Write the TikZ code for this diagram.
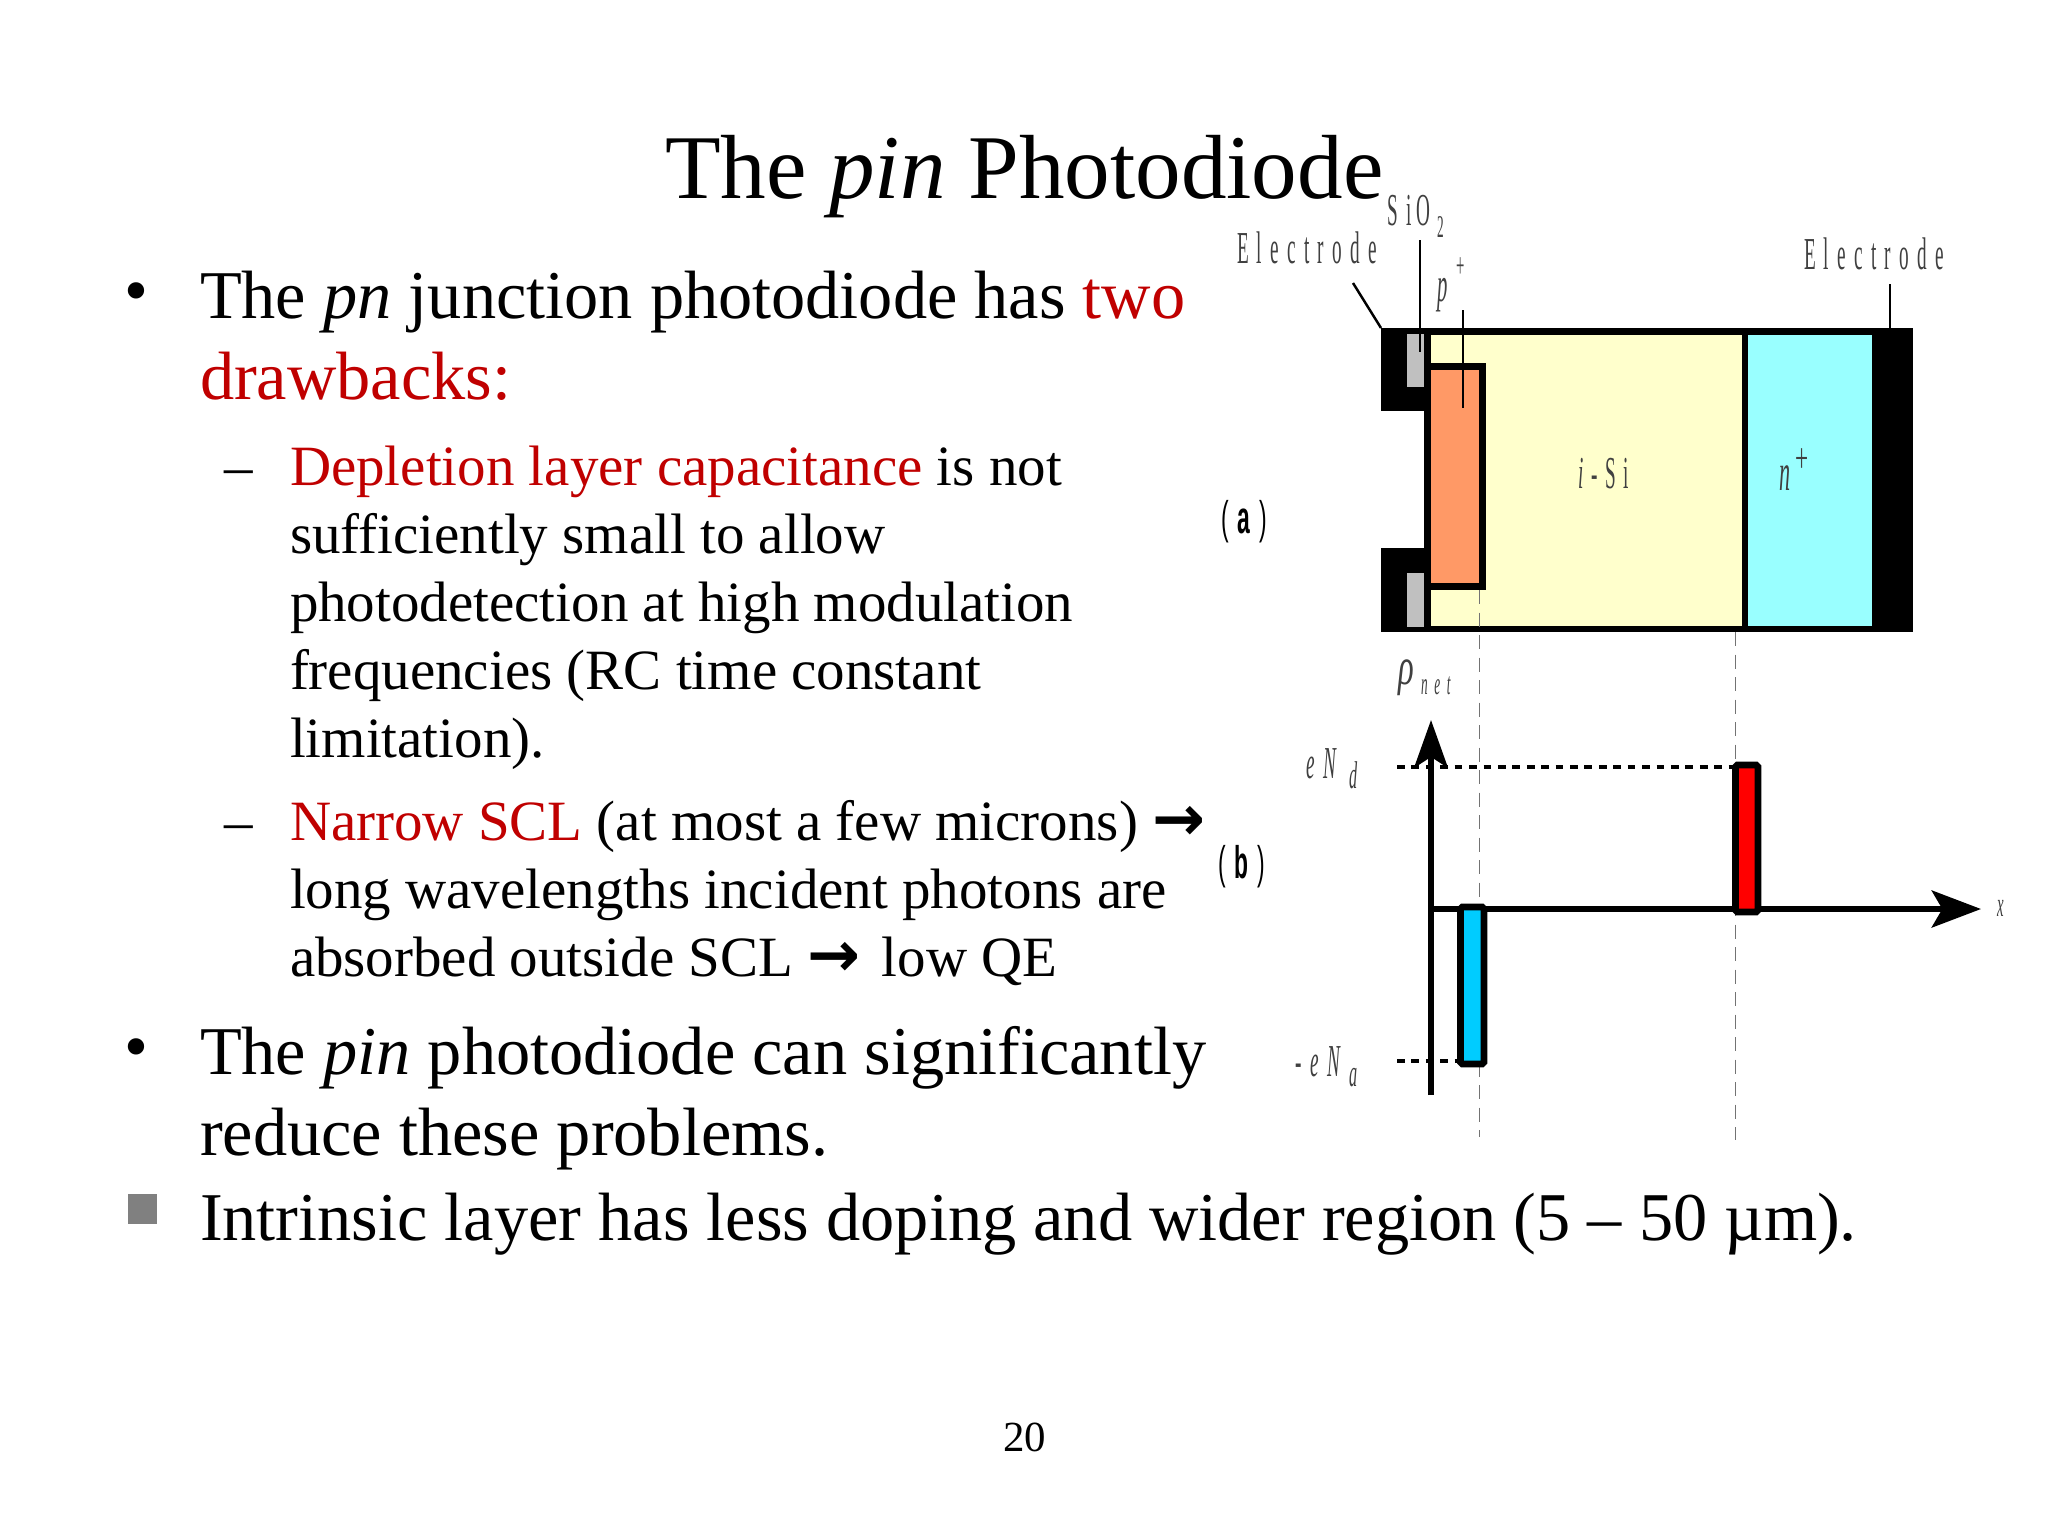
\documentclass[tikz,border=0pt]{standalone}
\usepackage{fontspec}
\setmainfont{Liberation Serif}
\newfontfamily\arrowfont{DejaVu Sans}
\newfontfamily\labelsans{Liberation Sans}
\usetikzlibrary{arrows.meta}
\definecolor{slidered}{RGB}{192,0,0}
\definecolor{iyellow}{RGB}{255,255,204}
\definecolor{ncyan}{RGB}{153,255,255}
\definecolor{porange}{RGB}{255,153,102}
\definecolor{oxgray}{RGB}{192,192,192}
\definecolor{ablue}{RGB}{0,204,255}
\newcommand{\hl}[1]{\textcolor{slidered}{#1}}
\newcommand{\ra}{{\fontsize{18}{18}\arrowfont\bfseries\symbol{"2192}}}
\newcommand{\squeeze}[2]{\scalebox{#1}[1.0]{#2}}
\newcommand{\spaced}[3]{\scalebox{#1}[1.0]{\addfontfeature{LetterSpace=#2}#3}}
\tikzset{
  lineleft/.style={anchor=base west,inner sep=0pt,outer sep=0pt},
  titletext/.style={lineleft,font=\fontsize{25.9}{26}\selectfont},
  bodytext/.style={lineleft,font=\fontsize{19.44}{20}\selectfont},
  subtext/.style={lineleft,font=\fontsize{16.2}{17}\selectfont},
  dialabel/.style={inner sep=0pt,outer sep=0pt,anchor=base west,font=\fontsize{13}{13}\selectfont,black!75},
  solidfill/.style={fill=black,draw=none},
  leader/.style={black,line width=0.7pt},
  guide/.style={black!55,line width=0.28pt,dash pattern=on 4pt off 2.4pt},
  levelline/.style={black,line width=1pt,dash pattern=on 2.2pt off 1.9pt},
  chargebar/.style={draw=black,line width=1.9pt,rounded corners=0.5pt},
  axisline/.style={black,line width=1.7pt},
}
\begin{document}
\begin{tikzpicture}[x=0.01cm,y=-0.01cm]
\useasboundingbox (0,0) rectangle (2048,1536);
\fill[white] (0,0) rectangle (2048,1536);
% Title
\node[titletext] (title) at (665,198) {The \textit{pin} Photodiode};
% Bullets
\node[bodytext] (b1dot) at (124,313) {•};
\node[bodytext] (b1a) at (200,318) {The \textit{pn} junction photodiode has \hl{two}};
\node[bodytext] (b1b) at (200,399) {\hl{drawbacks:}};
\node[subtext] (d1) at (224,485) {–};
\node[subtext] (s1a) at (290,485) {\hl{Depletion layer capacitance} is not};
\node[subtext] (s1b) at (290,553) {sufficiently small to allow};
\node[subtext] (s1c) at (290,621) {photodetection at high modulation};
\node[subtext] (s1d) at (290,689) {frequencies (RC time constant};
\node[subtext] (s1e) at (290,757) {limitation).};
\node[subtext] (d2) at (224,840) {–};
\node[subtext] (s2a) at (290,840) {\hl{Narrow SCL} (at most a few microns) \ra};
\node[subtext] (s2b) at (290,908) {long wavelengths incident photons are};
\node[subtext] (s2c) at (290,976) {absorbed outside SCL \ra\hspace{2pt} low QE};
\node[bodytext] (b2dot) at (124,1069) {•};
\node[bodytext] (b2a) at (200,1074) {The \textit{pin} photodiode can significantly};
\node[bodytext] (b2b) at (200,1155) {reduce these problems.};
\fill[black!50] (128,1194) rectangle (157,1224);
\node[bodytext] (b3) at (200,1240) {Intrinsic layer has less doping and wider region (5 – 50 µm).};
\node[lineleft,font=\fontsize{12.2}{13}\selectfont] (pg) at (1003,1451) {20};
% Device (a)
\begin{scope}[xshift=-0.02cm]
\fill[iyellow] (1430,332) rectangle (1746,629);
\fill[ncyan] (1747,332) rectangle (1876,629);
\fill[solidfill] (1383,328) rectangle (1428,411);
\fill[solidfill] (1383,548) rectangle (1428,632);
\fill[oxgray] (1409,334) rectangle (1426,387);
\fill[oxgray] (1409,573) rectangle (1426,627);
\fill[solidfill] (1874,328) rectangle (1915,632);
\draw[black,line width=1.9pt] (1429.5,411) -- (1429.5,331.5) -- (1880,331.5);
\draw[black,line width=1.9pt] (1429.5,548) -- (1429.5,629) -- (1880,629);
\draw[black,line width=1.9pt] (1429.5,411) -- (1429.5,548);
\draw[black,line width=1.9pt] (1747,332) -- (1747,629);
\draw[fill=porange,draw=black,line width=1.9pt,miter limit=2] (1429.5,366.5) -- (1484.5,366.5) -- (1484.5,586.5) -- (1429.5,586.5) -- cycle;
% Leaders
\coordinate (elL) at (1383,328); \coordinate (elLt) at (1355,283);
\coordinate (oxB) at (1422,352); \coordinate (oxT) at (1422,240);
\coordinate (pB) at (1465,408); \coordinate (pT) at (1465,310);
\coordinate (elR) at (1892,328); \coordinate (elRt) at (1892,284);
\draw[leader] (elLt) -- (elL);
\draw[leader] (oxT) -- (oxB);
\draw[leader] (pT) -- (pB);
\draw[leader] (elRt) -- (elR);
% Guides
\coordinate (g1a) at (1481.5,590); \coordinate (g1b) at (1481.5,1137);
\coordinate (g2a) at (1737,632); \coordinate (g2b) at (1737,1140);
\draw[guide] (g1a) -- (g1b);
\draw[guide] (g2a) -- (g2b);
% Levels
\coordinate (lda) at (1399,767); \coordinate (ldb) at (1735,767);
\coordinate (laa) at (1399,1061); \coordinate (lab) at (1461,1061);
\draw[levelline] (lda) -- (ldb);
\draw[levelline] (laa) -- (lab);
% Axes
\coordinate (yb) at (1433,1095); \coordinate (yt) at (1433,720);
\coordinate (xl) at (1430,909); \coordinate (xr) at (1983,909);
\draw[axisline,-{Stealth[length=13.5pt,width=9.5pt,inset=3pt]}] (yb) -- (yt);
\draw[axisline,-{Stealth[length=14pt,width=10.5pt,inset=3pt]}] (xl) -- (xr);
% Charge bars
\draw[chargebar,fill=red] (1737.5,765) rectangle (1760,912);
\draw[chargebar,fill=ablue] (1462.5,907) rectangle (1486,1064);
\end{scope}
% Labels
\node[dialabel] (lbEl) at (1237,263) {\spaced{0.42}{43}{Electrode}};
\node[dialabel] (lbEr) at (1804,269) {\spaced{0.42}{43}{Electrode}};
\node[dialabel] (lbSi) at (1387,225) {\spaced{0.42}{22}{S iO}};
\node[dialabel,font=\fontsize{9}{9}\selectfont] (lbSi2) at (1437,237) {\squeeze{0.42}{2}};
\node[dialabel,font=\fontsize{14}{14}\selectfont\itshape] (lbp) at (1437,301) {\squeeze{0.42}{p}};
\node[dialabel,font=\fontsize{10}{10}\selectfont] (lbpp) at (1456,277) {\squeeze{0.42}{+}};
\node[dialabel] (lbi) at (1578,488) {\spaced{0.42}{40}{\textit{i}-Si}};
\node[dialabel,font=\fontsize{15}{15}\selectfont\itshape] (lbn) at (1779,490) {\squeeze{0.42}{n}};
\node[dialabel,font=\fontsize{12}{12}\selectfont] (lbnp) at (1795,472) {\squeeze{0.55}{+}};
\node[dialabel,font=\fontsize{13}{13}\labelsans\selectfont,black] (lba) at (1221,533) {\spaced{0.5}{40}{(\textbf{a})}};
\node[dialabel,font=\fontsize{13}{13}\labelsans\selectfont,black] (lbb) at (1218,878) {\spaced{0.5}{40}{(\textbf{b})}};
\node[dialabel,font=\fontsize{15}{15}\selectfont\itshape] (lbrho) at (1398,684) {\squeeze{0.62}{ρ}};
\node[dialabel,font=\fontsize{9}{9}\selectfont\itshape] (lbnet) at (1421,694) {\spaced{0.42}{50}{net}};
\node[dialabel,font=\fontsize{13}{13}\selectfont\itshape] (lbeNd) at (1306,778) {\spaced{0.42}{45}{eN}};
\node[dialabel,font=\fontsize{11}{11}\selectfont\itshape] (lbd) at (1349,788) {\squeeze{0.42}{d}};
\node[dialabel,font=\fontsize{13}{13}\selectfont\itshape] (lbeNa) at (1295,1076) {\spaced{0.42}{45}{-eN}};
\node[dialabel,font=\fontsize{11}{11}\selectfont\itshape] (lba2) at (1349,1086) {\squeeze{0.42}{a}};
\node[dialabel,font=\fontsize{10}{10}\selectfont\itshape] (lbx) at (1997,916) {\squeeze{0.42}{x}};
\end{tikzpicture}
\end{document}
